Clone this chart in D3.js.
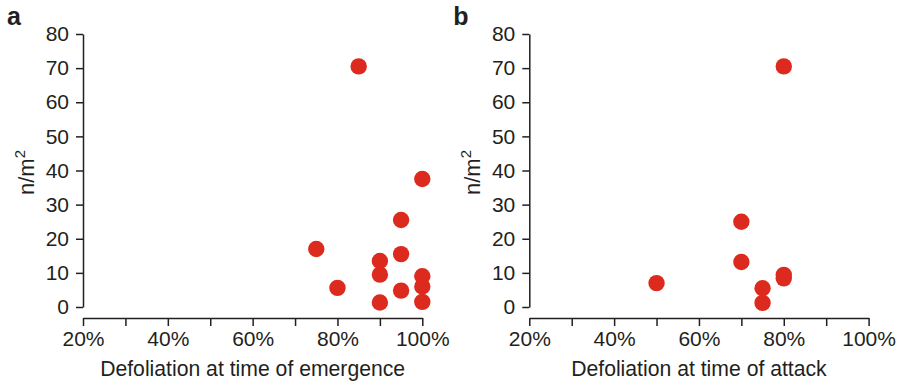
<!DOCTYPE html>
<html>
<head>
<meta charset="utf-8">
<script src="https://cdn.jsdelivr.net/npm/d3@7"></script>
<style>
  body { margin: 0; background: #fff; }
  svg text { font-family: "Liberation Sans", Arial, Helvetica, sans-serif; fill: #231f20; }
</style>
</head>
<body>
<div id="chart"></div>
<script>
// panel a: density vs defoliation at time of emergence
const emergenceX = [85, 100, 95, 75, 95, 90, 90, 80, 95, 90, 100, 100, 100];
const emergenceY = [70.5, 37.5, 25.5, 17, 15.5, 13.5, 9.5, 5.6, 4.8, 1.3, 9, 6, 1.5];

// panel b: density vs defoliation at time of attack
const attackX = [80, 70, 70, 50, 80, 80, 75, 75];
const attackY = [70.5, 25, 13.2, 7, 9.4, 8.4, 5.5, 1.2];

const xTicks = [20, 30, 40, 50, 60, 70, 80, 90, 100];
const xLabels = [20, 40, 60, 80, 100];
const yTicks = [0, 10, 20, 30, 40, 50, 60, 70, 80];

const panels = [
  { tag: "a", title: "Defoliation at time of emergence", xs: emergenceX, ys: emergenceY, left: 83 },
  { tag: "b", title: "Defoliation at time of attack", xs: attackX, ys: attackY, left: 529.3 },
];

const width = 897;
const height = 384;
const plotW = 339.3;
const plotTop = 34;
const plotBottom = 307;
const xAxisY = 318;

const svg = d3
  .select("#chart")
  .append("svg")
  .attr("width", width)
  .attr("height", height);

panels.forEach((p) => {
  const x = d3.scaleLinear().domain([20, 100]).range([p.left, p.left + plotW]);
  const y = d3.scaleLinear().domain([0, 80]).range([plotBottom, plotTop]);

  const g = svg.append("g");

  const yAxis = d3.axisLeft(y).tickValues(yTicks).tickSize(7).tickSizeOuter(0).tickPadding(7);
  const ya = g.append("g").attr("transform", `translate(${p.left}, 0)`).call(yAxis);

  const xAxis = d3
    .axisBottom(x)
    .tickValues(xTicks)
    .tickSize(8)
    .tickSizeOuter(0)
    .tickPadding(5)
    .tickFormat((d) => (xLabels.includes(d) ? d + "%" : ""));
  const xa = g.append("g").attr("transform", `translate(0, ${xAxisY})`).call(xAxis);

  [ya, xa].forEach((a) => {
    a.select(".domain").attr("stroke", "#231f20").attr("stroke-width", 1.5);
    a.selectAll(".tick line").attr("stroke", "#231f20").attr("stroke-width", 1.5);
    a.selectAll(".tick text").style("font-size", "21px").attr("fill", "#231f20");
  });

  g.selectAll("circle")
    .data(p.xs.map((v, i) => ({ x: v, y: p.ys[i] })))
    .enter()
    .append("circle")
    .attr("cx", (d) => x(d.x))
    .attr("cy", (d) => y(d.y))
    .attr("r", 8.2)
    .attr("fill", "#dc2b1e");

  g.append("text")
    .attr("x", p.left + plotW / 2)
    .attr("y", 376)
    .attr("text-anchor", "middle")
    .style("font-size", "21.2px")
    .text(p.title);

  const yl = g
    .append("text")
    .attr("transform", `translate(${p.left - 49}, ${(plotTop + plotBottom) / 2 + 2}) rotate(-90)`)
    .attr("text-anchor", "middle")
    .style("font-size", "22px");
  yl.append("tspan").text("n/m");
  yl.append("tspan").attr("dy", -9).style("font-size", "15px").text("2");

  g.append("text")
    .attr("x", p.left - 76)
    .attr("y", 25)
    .style("font-size", "25px")
    .style("font-weight", "bold")
    .text(p.tag);
});
</script>
</body>
</html>
